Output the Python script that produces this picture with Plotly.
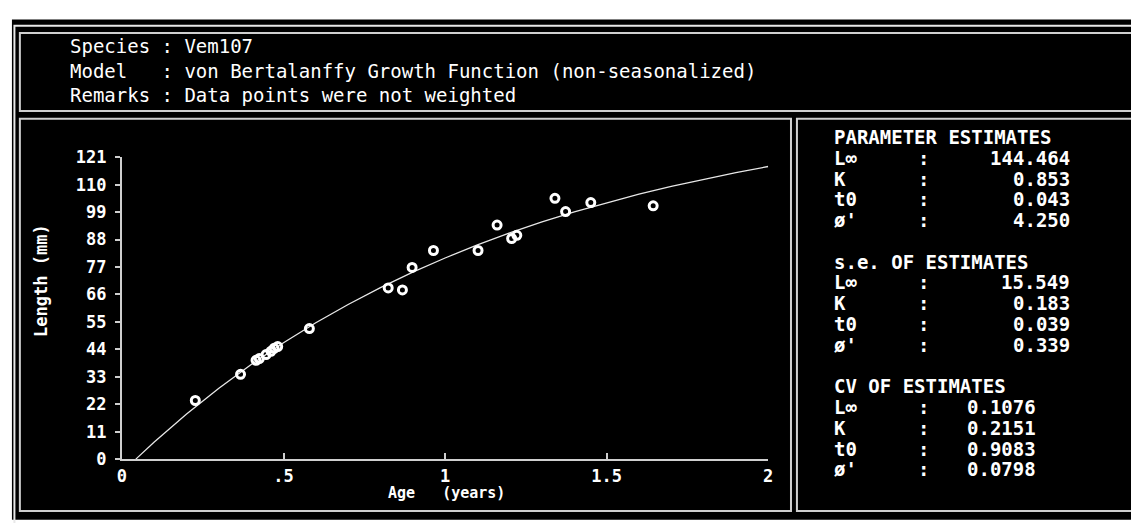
import plotly.graph_objects as go

W, H = 1131, 523

# ---- data ----
ages = [0.227, 0.367, 0.415, 0.425, 0.446, 0.461, 0.471, 0.482, 0.580, 0.824, 0.868, 0.898,
        0.964, 1.102, 1.161, 1.206, 1.222, 1.340, 1.373, 1.451, 1.644]
lengths = [23.5, 34.0, 39.6, 40.3, 41.9, 43.2, 44.4, 45.1, 52.3, 68.6, 67.8, 76.8,
           83.6, 83.6, 93.8, 88.4, 89.7, 104.5, 99.2, 102.8, 101.5]

curve_age = [0.043, 0.1, 0.2, 0.3, 0.4, 0.5, 0.6, 0.7, 0.8, 0.9, 1.0, 1.1, 1.2, 1.3,
             1.4, 1.5, 1.6, 1.7, 1.8, 1.9, 2.0]
curve_len = [0.0, 6.86, 18.11, 28.44, 37.93, 46.64, 54.63, 61.98, 68.72, 74.91, 80.60,
             85.82, 90.62, 95.02, 99.06, 102.77, 106.18, 109.31, 112.19, 114.83, 117.25]

x_tickvals = [0, 0.5, 1, 1.5, 2]
x_ticktext = ["0", ".5", "1", "1.5", "2"]
y_tickvals = [0, 11, 22, 33, 44, 55, 66, 77, 88, 99, 110, 121]

header_lines = ["Species : Vem107",
                "Model   : von Bertalanffy Growth Function (non-seasonalized)",
                "Remarks : Data points were not weighted"]

param_labels = ["L\u221e", "K", "t0", "\u00f8'"]
block_titles = ["PARAMETER ESTIMATES", "s.e. OF ESTIMATES", "CV OF ESTIMATES"]
estimates = ["144.464", "0.853", "0.043", "4.250"]
std_errors = ["15.549", "0.183", "0.039", "0.339"]
cv_values = ["0.1076", "0.2151", "0.9083", "0.0798"]

# ---- helpers ----
def px(x):
    return x / W

def py(y):
    return 1 - y / H

LINE = "#cfcfcf"
TXT = "#ffffff"
MONO = "DejaVu Sans Mono"

fig = go.Figure()
fig.add_trace(go.Scatter(x=curve_age, y=curve_len, mode="lines",
                         line=dict(color="#e6e6e6", width=1.3), hoverinfo="skip"))
fig.add_trace(go.Scatter(x=ages, y=lengths, mode="markers",
                         marker=dict(symbol="circle-open", size=8, color="white",
                                     line=dict(color="white", width=3))))

shapes = [
    dict(type="rect", xref="paper", yref="paper", x0=px(7), x1=px(1140), y0=py(10), y1=py(530),
         fillcolor="black", line=dict(width=0), layer="below"),
    dict(type="rect", xref="paper", yref="paper", x0=px(9.5), x1=px(1145), y0=py(16.5), y1=py(540),
         line=dict(color="#e8e8e8", width=2), layer="below"),
    dict(type="rect", xref="paper", yref="paper", x0=px(15), x1=px(1145), y0=py(24), y1=py(105),
         line=dict(color=LINE, width=2), layer="below"),
    dict(type="rect", xref="paper", yref="paper", x0=px(15), x1=px(793), y0=py(113), y1=py(521),
         line=dict(color=LINE, width=2), layer="below"),
    dict(type="rect", xref="paper", yref="paper", x0=px(799), x1=px(1145), y0=py(113), y1=py(521),
         line=dict(color=LINE, width=2), layer="below"),
]

ann = []
# header (one text block, lines separated by <br>)
header_text = "<br>".join(t.replace(" ", "\u00a0") for t in header_lines)
ann.append(dict(text=header_text, x=px(64), y=py(63), xref="paper", yref="paper",
                xanchor="left", yanchor="middle", align="left", showarrow=False,
                font=dict(family=MONO, size=19, color=TXT)))
# axis titles
ann.append(dict(text="Length\u00a0(mm)", x=px(37), y=py(281), xref="paper", yref="paper",
                textangle=-90, showarrow=False, xanchor="center", yanchor="middle",
                font=dict(family=MONO, size=17, color=TXT, weight="bold")))
ann.append(dict(text="Age\u00a0\u00a0\u00a0(years)", x=px(445), y=py(502), xref="paper", yref="paper",
                showarrow=False, xanchor="center", yanchor="middle",
                font=dict(family=MONO, size=15, color=TXT, weight="bold")))

# parameter panel
pfont = dict(family=MONO, size=19, color=TXT, weight="bold")
blocks = [estimates, std_errors, cv_values]
for b, (title, vals) in enumerate(zip(block_titles, blocks)):
    y0 = 132 + b * 6 * 21.6
    ann.append(dict(text=title.replace(" ", "\u00a0"), x=px(834), y=py(y0), xref="paper", yref="paper",
                    xanchor="left", yanchor="middle", showarrow=False, font=pfont))
    for r in range(4):
        yy = py(y0 + (r + 1) * 21.6)
        ann.append(dict(text=param_labels[r], x=px(834), y=yy, xref="paper", yref="paper",
                        xanchor="left", yanchor="middle", showarrow=False, font=pfont))
        ann.append(dict(text=":", x=px(927), y=yy, xref="paper", yref="paper",
                        xanchor="center", yanchor="middle", showarrow=False, font=pfont))
        if b < 2:
            ann.append(dict(text=vals[r], x=px(1077), y=yy, xref="paper", yref="paper",
                            xanchor="right", yanchor="middle", showarrow=False, font=pfont))
        else:
            ann.append(dict(text=vals[r], x=px(1005), y=yy, xref="paper", yref="paper",
                            xanchor="center", yanchor="middle", showarrow=False, font=pfont))

tickfont = dict(family=MONO, size=17, color=TXT, weight="bold")
fig.update_layout(
    width=W, height=H,
    margin=dict(l=0, r=0, t=0, b=0),
    paper_bgcolor="white",
    plot_bgcolor="rgba(0,0,0,0)",
    showlegend=False,
    shapes=shapes,
    annotations=ann,
    xaxis=dict(domain=[px(118), px(770)], range=[0, 2], tickvals=x_tickvals, ticktext=x_ticktext,
               ticks="inside", ticklen=6, tickwidth=1.5, tickcolor=LINE,
               showline=True, linecolor=LINE, linewidth=2, showgrid=False, zeroline=False,
               tickfont=tickfont),
    yaxis=dict(domain=[py(467), py(153)], range=[0, 121], tickvals=y_tickvals,
               ticks="outside", ticklen=5, tickwidth=1.5, tickcolor=LINE,
               showline=True, linecolor=LINE, linewidth=2, showgrid=False, zeroline=False,
               ticklabelstandoff=5, tickfont=tickfont),
)

fig.write_html("out.html", config={"displayModeBar": False},
               post_script="document.body.style.margin='0';document.body.style.overflow='hidden';")
